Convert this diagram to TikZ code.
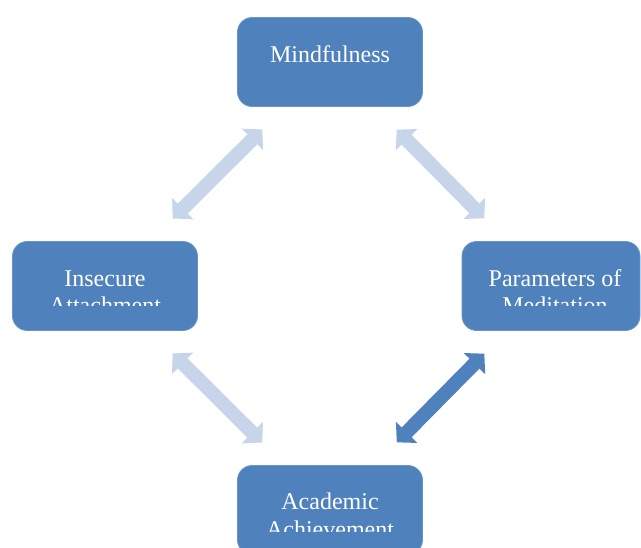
\documentclass[tikz,border=0pt]{standalone}
\usepackage{fontspec}
\setmainfont{Liberation Serif}
\usetikzlibrary{arrows.meta, calc}
\definecolor{myblue}{RGB}{79,129,189}
\definecolor{mylight}{RGB}{198,213,234}
\tikzset{
 box/.style={rectangle, rounded corners=11pt, fill=myblue, draw=myblue!85!white, line width=0.6pt,
   minimum width=138.75pt, minimum height=66.75pt, inner sep=0pt},
 boxtext/.style={text=white, font=\fontsize{18}{20.5}\selectfont, align=center, anchor=base},
 link/.style={line width=10.5pt, {Triangle[length=10.5pt,width=22pt]}-{Triangle[length=10.5pt,width=22pt]},
   shorten <=24pt, shorten >=24pt}
}

\begin{document}
\begin{tikzpicture}[x=0.75pt, y=-0.75pt]
 \useasboundingbox (0,0) rectangle (641,548);

 % the four boxes
 \node[box] (mind) at (330,62) {};
 \node[box] (insec) at (105,286) {};
 \node[box, minimum width=133.5pt] (param) at (551,286) {};
 \node[box] (acad) at (330,510) {};

 % their texts, the second lines cut off
 \node[boxtext] (mindT) at (330,63) {Mindfulness};
 \begin{scope}
  \clip (0,240) rectangle (641,306);
  \node[boxtext] (insecT) at (105,314) {Insecure\\Attachment};
  \node[boxtext] (paramT) at (555,314) {Parameters of\\Meditation};
 \end{scope}
 \begin{scope}
  \clip (200,460) rectangle (460,531);
  \node[boxtext] (acadT) at (330,537) {Academic\\Achievement};
 \end{scope}

 % links
 \draw[link, mylight] (mind) -- (insec);
 \draw[link, mylight] (mind) -- (param);
 \draw[link, mylight] (insec) -- (acad);
 \draw[link, myblue] (param) -- (acad);
\end{tikzpicture}
\end{document}
